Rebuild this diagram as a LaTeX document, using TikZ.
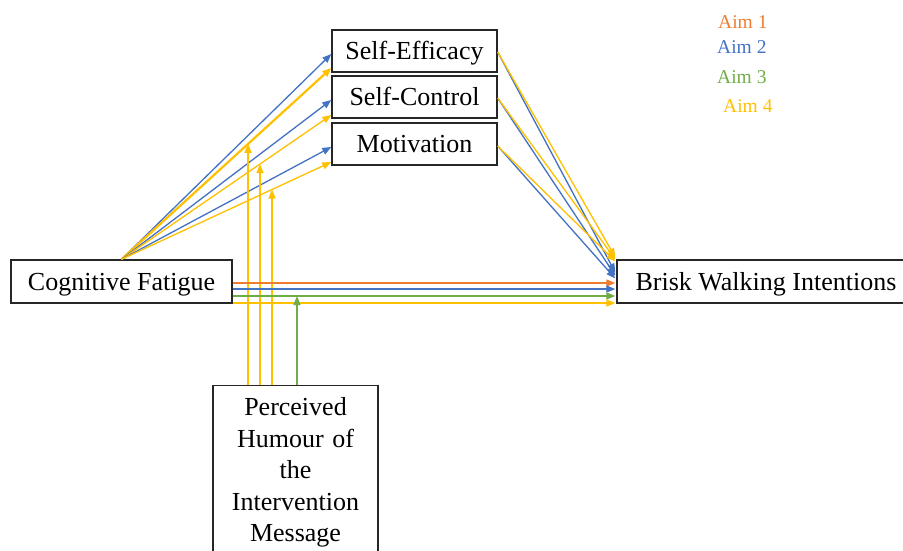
\documentclass[tikz,border=0pt]{standalone}
\usepackage{fontspec}
\setmainfont{Liberation Serif}
\usetikzlibrary{arrows.meta,calc}
\definecolor{aimorange}{RGB}{237,125,49}
\definecolor{aimblue}{RGB}{68,114,196}
\definecolor{aimgreen}{RGB}{112,173,71}
\definecolor{aimyellow}{RGB}{255,192,0}
\tikzset{
  boxline/.style={draw=black!85, line width=1.4pt, rectangle, align=center,
    font=\fontsize{26}{31.5}\selectfont},
  box/.style={boxline, inner sep=0pt, text height=17.2pt, text depth=0pt},
  legend/.style={anchor=base west, inner sep=0pt, font=\fontsize{19.5}{22}\selectfont},
  conn/.style={line width=1.3pt, -{Triangle[length=9pt,width=7pt]}},
  yl/.style={conn, draw=aimyellow, fill=aimyellow},
  bl/.style={conn, draw=aimblue, fill=aimblue},
  gl/.style={conn, draw=aimgreen, fill=aimgreen},
  ol/.style={conn, draw=aimorange, fill=aimorange},
}
\begin{document}
\begin{tikzpicture}[x=1pt,y=-1pt]
\useasboundingbox (0,0) rectangle (903,550);
\fill[white] (0,0) rectangle (903,550);

% nodes
\node[box, minimum width=165pt, minimum height=42pt] (se) at (414.5,51) {Self-Efficacy};
\node[box, minimum width=165pt, minimum height=42pt] (sc) at (414.5,97) {Self-Control};
\node[box, minimum width=165pt, minimum height=42pt] (mo) at (414.5,144) {Motivation};
\node[box, minimum width=221pt, minimum height=43pt] (cf) at (121.5,281.5) {Cognitive Fatigue};
\node[box, minimum width=298pt, minimum height=43pt] (bw) at (766,281.5) {Brisk Walking Intentions};
\node[boxline, anchor=north, text width=165pt, inner xsep=0pt, inner ysep=12pt] (ph) at (295.5,385)
  {Perceived\\Humour of\\the\\Intervention\\Message};

% legend
\node[legend, text=aimorange] (l1) at (718,28) {Aim 1};
\node[legend, text=aimblue] (l2) at (717,53) {Aim 2};
\node[legend, text=aimgreen] (l3) at (717,83) {Aim 3};
\node[legend, text=aimyellow] (l4) at (723,112) {Aim 4};

% target coordinates on the left edges of mediators
\coordinate (seB) at ($(se.west)+(0,3)$);
\coordinate (seY) at ($(se.west)+(0,17)$);
\coordinate (scB) at ($(sc.west)+(0,3)$);
\coordinate (scY) at ($(sc.west)+(0,18)$);
\coordinate (moB) at ($(mo.west)+(0,3)$);
\coordinate (moY) at ($(mo.west)+(0,18)$);

% Cognitive Fatigue -> mediators
\draw[bl] (cf.north) -- (seB);
\draw[yl, line width=2.2pt] (cf.north) -- (seY);
\draw[bl] (cf.north) -- (scB);
\draw[yl] (cf.north) -- (scY);
\draw[bl] (cf.north) -- (moB);
\draw[yl] (cf.north) -- (moY);

% moderation arrows from Perceived Humour
\coordinate (m1) at ($(cf.north)!0.6033!(seY)$);
\coordinate (m2) at ($(cf.north)!0.6603!(scY)$);
\coordinate (m3) at ($(cf.north)!0.7173!(moY)$);
\draw[yl, line width=1.4pt] (m1 |- ph.north) -- (m1);
\draw[yl, line width=1.4pt] (m2 |- ph.north) -- (m2);
\draw[yl, line width=1.4pt] (m3 |- ph.north) -- (m3);

% direct paths
\draw[ol] ($(cf.east)+(0,1.5)$) -- ($(bw.west)+(-1,1.5)$);
\draw[bl] ($(cf.east)+(0,7.5)$) -- ($(bw.west)+(-1,7.5)$);
\coordinate (gA) at ($(cf.east)+(0,14.5)$);
\draw[gl] (gA) -- ($(bw.west)+(-1,14.5)$);
\draw[yl] ($(cf.east)+(0,21.5)$) -- ($(bw.west)+(-1,21.5)$);
\coordinate (gm) at (297,0);
\draw[gl, line width=1.4pt] (gm |- ph.north) -- (gm |- gA);

% mediators -> Brisk Walking Intentions
\draw[bl] ($(se.east)+(0,1)$) -- ($(bw.west)+(-1,-9)$);
\draw[yl] ($(se.east)+(0,1)$) -- ($(bw.north west)+(-1,-2)$);
\draw[bl] ($(sc.east)+(0,1)$) -- ($(bw.west)+(-1,-6)$);
\draw[yl] ($(sc.east)+(0,1)$) -- ($(bw.north west)+(-1,0)$);
\draw[bl] ($(mo.east)+(0,2)$) -- ($(bw.west)+(-1,-3)$);
\draw[yl] ($(mo.east)+(0,2)$) -- ($(bw.north west)+(-1,2)$);
\end{tikzpicture}
\end{document}
